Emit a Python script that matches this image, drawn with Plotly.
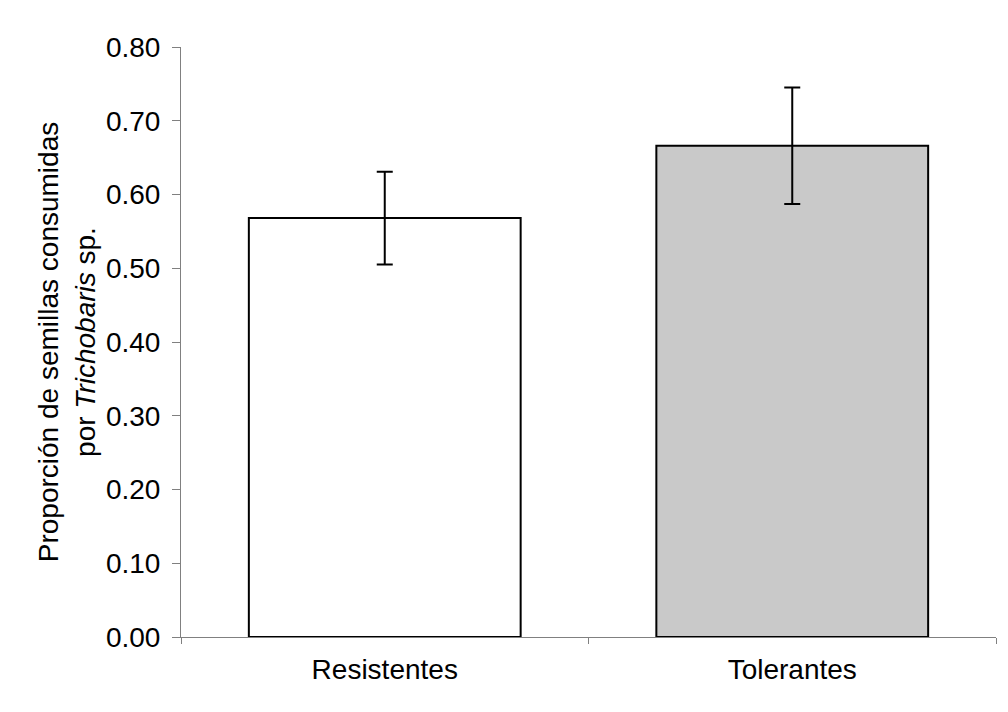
import plotly.graph_objects as go

categories = ["Resistentes", "Tolerantes"]
values = [0.568, 0.666]
errors = [0.063, 0.079]
bar_colors = ["#ffffff", "#c9c9c9"]
y_ticks = [0.0, 0.1, 0.2, 0.3, 0.4, 0.5, 0.6, 0.7, 0.8]
y_tick_labels = ["%.2f" % v for v in y_ticks]

fig = go.Figure()
fig.add_trace(go.Bar(
    x=categories, y=values,
    width=0.667,
    marker=dict(color=bar_colors, line=dict(color="#000000", width=2)),
    error_y=dict(type="data", array=errors, visible=True,
                 color="#000000", thickness=2, width=8),
))

font = "Liberation Sans, Arial, sans-serif"
# page body has an 8px default margin; figure size/margins compensate for it
fig.update_layout(
    width=1000, height=704,
    margin=dict(l=173, r=12, t=39, b=75),
    paper_bgcolor="white", plot_bgcolor="white",
    showlegend=False,
    font=dict(family=font, size=28, color="#000000"),
    xaxis=dict(
        showline=True, linecolor="#808080", linewidth=1,
        ticks="outside", tickson="boundaries", ticklen=6, tickcolor="#808080",
        showgrid=False, zeroline=False, ticklabelstandoff=7,
        tickfont=dict(size=28, family=font),
    ),
    yaxis=dict(
        range=[0, 0.8],
        tickvals=y_ticks, ticktext=y_tick_labels,
        showline=True, linecolor="#808080", linewidth=1,
        ticks="outside", ticklen=8, tickcolor="#808080",
        showgrid=False, zeroline=False, ticklabelstandoff=6,
        tickfont=dict(size=28, family=font),
        title=dict(text="Proporción de semillas consumidas<br>por <i>Trichobaris</i> sp.",
                   font=dict(size=28, family=font), standoff=2),
    ),
)

fig.write_html("out.html")
